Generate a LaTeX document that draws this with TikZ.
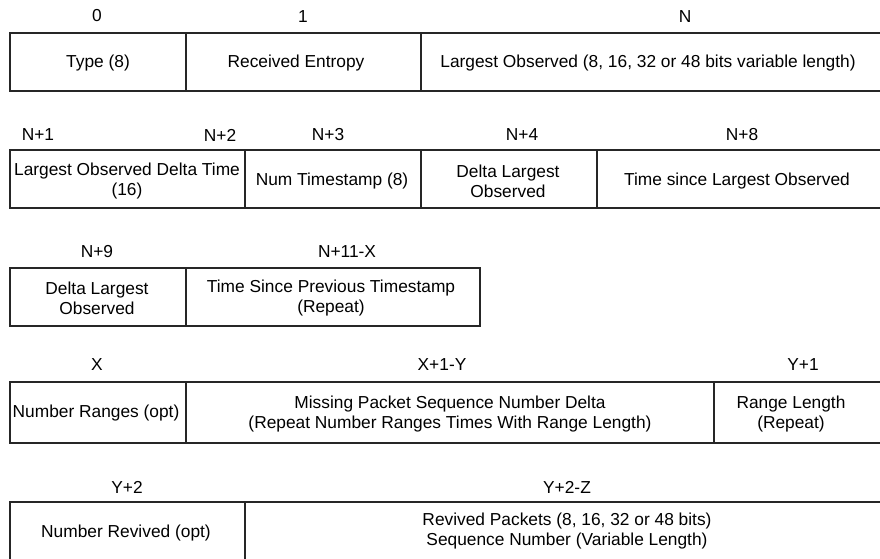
\documentclass[tikz,border=0pt]{standalone}
\usepackage{fontspec}
\setmainfont{Liberation Sans}
\begin{document}
\begin{tikzpicture}[x=0.75pt,y=-0.75pt,
  field/.style={font=\fontsize{13}{15}\selectfont,align=center,inner sep=0pt},
  idx/.style={font=\fontsize{13}{15}\selectfont,inner sep=0pt},
  frame/.style={draw=black!85,line width=1.1pt}]
  \useasboundingbox (0,0) rectangle (880,558);
  \clip (0,0) rectangle (880,558);

  % row 1
  \draw[frame] (10,33) rectangle (886,91);
  \draw[frame] (186,33) -- (186,91) (421,33) -- (421,91);
  \node[idx] (i0) at (97,16) {0};
  \node[idx] (i1) at (303,17) {1};
  \node[idx] (iN) at (685,17) {N};
  \node[field] (type) at (98,63) {Type (8)};
  \node[field] (entropy) at (296,63) {Received Entropy};
  \node[field] (largest) at (648,63) {Largest Observed (8, 16, 32 or 48 bits variable length)};

  % row 2
  \draw[frame] (10,150) rectangle (886,208);
  \draw[frame] (245,150) -- (245,208) (421,150) -- (421,208) (597,150) -- (597,208);
  \node[idx] (iN1) at (38,135) {N+1};
  \node[idx] (iN2) at (220,135) {N+2};
  \node[idx] (iN3) at (328,135) {N+3};
  \node[idx] (iN4) at (522,135) {N+4};
  \node[idx] (iN8) at (742,135) {N+8};
  \node[field] (ldt) at (127,181) {Largest Observed Delta Time\\(16)};
  \node[field] (numts) at (332,181) {Num Timestamp (8)};
  \node[field] (dlo) at (508,181) {Delta Largest\\Observed};
  \node[field] (tslo) at (737,181) {Time since Largest Observed};

  % row 3
  \draw[frame] (10,268) rectangle (480,326);
  \draw[frame] (186,268) -- (186,326);
  \node[idx] (iN9) at (97,252) {N+9};
  \node[idx] (iN11) at (347,252) {N+11-X};
  \node[field] (dlo2) at (97,298) {Delta Largest\\Observed};
  \node[field] (tspt) at (331,298) {Time Since Previous Timestamp\\(Repeat)};

  % row 4
  \draw[frame] (10,382) rectangle (886,443);
  \draw[frame] (186,382) -- (186,443) (714,382) -- (714,443);
  \node[idx] (iX) at (97,365) {X};
  \node[idx] (iX1) at (442,365) {X+1-Y};
  \node[idx] (iY1) at (803,365) {Y+1};
  \node[field] (nranges) at (96,413) {Number Ranges (opt)};
  \node[field] (missing) at (450,414) {Missing Packet Sequence Number Delta\\(Repeat Number Ranges Times With Range Length)};
  \node[field] (rlen) at (791,414) {Range Length\\(Repeat)};

  % row 5
  \draw[frame] (10,502) rectangle (886,562);
  \draw[frame] (245,502) -- (245,562);
  \node[idx] (iY2) at (127,487) {Y+2};
  \node[idx] (iY2Z) at (567,487) {Y+2-Z};
  \node[field] (nrevived) at (126,533) {Number Revived (opt)};
  \node[field] (revived) at (567,531) {Revived Packets (8, 16, 32 or 48 bits)\\Sequence Number (Variable Length)};
\end{tikzpicture}
\end{document}
